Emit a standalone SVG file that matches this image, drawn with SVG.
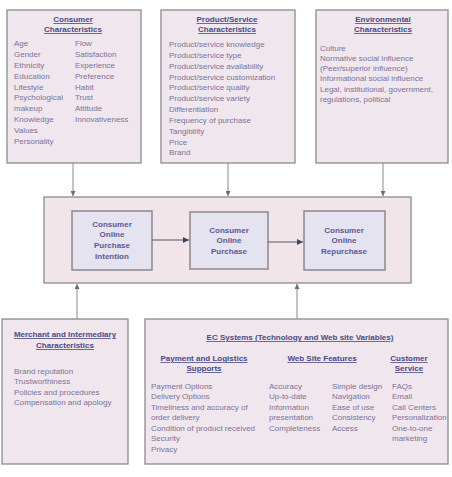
<svg xmlns="http://www.w3.org/2000/svg" width="452" height="477" viewBox="0 0 452 477">
<defs>
<style>
.box{fill:#efe6ee;stroke:#8c8a90;stroke-width:1.3}
.mid{fill:#f2e5ea;stroke:#8c8a90;stroke-width:1.3}
.inner{fill:#e5e3ef;stroke:#8a8890;stroke-width:1.5}
.t{font-family:"Liberation Sans",Arial,sans-serif;font-size:8px;font-weight:bold;fill:#4a4a86;text-anchor:middle;text-decoration:underline}
.it{font-family:"Liberation Sans",Arial,sans-serif;font-size:8px;font-weight:bold;fill:#5a5a92;text-anchor:middle}
.b{font-family:"Liberation Sans",Arial,sans-serif;font-size:8px;fill:#7c7399}
.c{stroke:#8a8a8a;stroke-width:1;fill:none}
.cd{stroke:#55556a;stroke-width:1;fill:none}
</style>
<marker id="ah" viewBox="0 0 6 6" refX="6" refY="3" markerWidth="5" markerHeight="5" orient="auto"><path d="M0,0 L6,3 L0,6 z" fill="#6a6a7a"/></marker>
<marker id="ahd" viewBox="0 0 6 6" refX="6" refY="3" markerWidth="6" markerHeight="6" orient="auto"><path d="M0,0 L6,3 L0,6 z" fill="#44445a"/></marker>
</defs>
<rect width="452" height="477" fill="#ffffff"/>
<g id="consumer-characteristics">
<rect class="box" x="7" y="10" width="134" height="153"/>
<text class="t" x="73" y="22">Consumer</text>
<text class="t" x="73" y="32">Characteristics</text>
<text class="b" x="14" y="46">Age</text>
<text class="b" x="14" y="57">Gender</text>
<text class="b" x="14" y="68">Ethnicity</text>
<text class="b" x="14" y="79">Education</text>
<text class="b" x="14" y="90">Lifestyle</text>
<text class="b" x="14" y="100">Psychological</text>
<text class="b" x="14" y="111">makeup</text>
<text class="b" x="14" y="122">Knowledge</text>
<text class="b" x="14" y="133">Values</text>
<text class="b" x="14" y="144">Personality</text>
<text class="b" x="75" y="46">Flow</text>
<text class="b" x="75" y="57">Satisfaction</text>
<text class="b" x="75" y="68">Experience</text>
<text class="b" x="75" y="79">Preference</text>
<text class="b" x="75" y="90">Habit</text>
<text class="b" x="75" y="100">Trust</text>
<text class="b" x="75" y="111">Attitude</text>
<text class="b" x="75" y="122">Innovativeness</text>
</g>
<g id="product-service-characteristics">
<rect class="box" x="161" y="10" width="134" height="153"/>
<text class="t" x="227" y="22">Product/Service</text>
<text class="t" x="227" y="32">Characteristics</text>
<text class="b" x="169" y="47">Product/service knowledge</text>
<text class="b" x="169" y="58">Product/service type</text>
<text class="b" x="169" y="69">Product/service availability</text>
<text class="b" x="169" y="80">Product/service customization</text>
<text class="b" x="169" y="90">Product/service quality</text>
<text class="b" x="169" y="101">Product/service variety</text>
<text class="b" x="169" y="112">Differentiation</text>
<text class="b" x="169" y="123">Frequency of purchase</text>
<text class="b" x="169" y="134">Tangibility</text>
<text class="b" x="169" y="145">Price</text>
<text class="b" x="169" y="155">Brand</text>
</g>
<g id="environmental-characteristics">
<rect class="box" x="316" y="10" width="132" height="153"/>
<text class="t" x="383" y="22">Environmental</text>
<text class="t" x="383" y="32">Characteristics</text>
<text class="b" x="320" y="51">Culture</text>
<text class="b" x="320" y="61">Normative social influence</text>
<text class="b" x="320" y="71">(Peer/superior influence)</text>
<text class="b" x="320" y="81">Informational social influence</text>
<text class="b" x="320" y="92">Legal, institutional, government,</text>
<text class="b" x="320" y="102">regulations, political</text>
</g>
<g id="online-purchase-process">
<rect class="mid" x="44" y="197" width="367" height="86"/>
</g>
<g id="purchase-intention">
<rect class="inner" x="72" y="211" width="80" height="59"/>
<text class="it" x="112" y="227">Consumer</text>
<text class="it" x="112" y="237">Online</text>
<text class="it" x="112" y="248">Purchase</text>
<text class="it" x="112" y="259">Intention</text>
</g>
<g id="online-purchase">
<rect class="inner" x="190" y="212" width="78" height="57"/>
<text class="it" x="229" y="233">Consumer</text>
<text class="it" x="229" y="243">Online</text>
<text class="it" x="229" y="254">Purchase</text>
</g>
<g id="online-repurchase">
<rect class="inner" x="304" y="211" width="81" height="59"/>
<text class="it" x="344" y="233">Consumer</text>
<text class="it" x="344" y="243">Online</text>
<text class="it" x="344" y="254">Repurchase</text>
</g>
<g id="merchant-intermediary">
<rect class="box" x="2" y="319" width="126" height="145"/>
<text class="t" x="65" y="337">Merchant and Intermediary</text>
<text class="t" x="65" y="348">Characteristics</text>
<text class="b" x="14" y="374">Brand reputation</text>
<text class="b" x="14" y="384">Trustworthiness</text>
<text class="b" x="14" y="395">Policies and procedures</text>
<text class="b" x="14" y="405">Compensation and apology</text>
</g>
<g id="ec-systems">
<rect class="box" x="145" y="319" width="303" height="145"/>
<text class="t" x="300" y="340">EC Systems (Technology and Web site Variables)</text>
<text class="t" x="204" y="361">Payment and Logistics</text>
<text class="t" x="204" y="371">Supports</text>
<text class="b" x="151" y="389">Payment Options</text>
<text class="b" x="151" y="399">Delivery Options</text>
<text class="b" x="151" y="410">Timeliness and accuracy of</text>
<text class="b" x="151" y="420">order delivery</text>
<text class="b" x="151" y="431">Condition of product received</text>
<text class="b" x="151" y="441">Security</text>
<text class="b" x="151" y="452">Privacy</text>
<text class="t" x="322" y="361">Web Site Features</text>
<text class="b" x="269" y="389">Accuracy</text>
<text class="b" x="269" y="399">Up-to-date</text>
<text class="b" x="269" y="410">Information</text>
<text class="b" x="269" y="420">presentation</text>
<text class="b" x="269" y="431">Completeness</text>
<text class="b" x="332" y="389">Simple design</text>
<text class="b" x="332" y="399">Navigation</text>
<text class="b" x="332" y="410">Ease of use</text>
<text class="b" x="332" y="420">Consistency</text>
<text class="b" x="332" y="431">Access</text>
<text class="t" x="409" y="361">Customer</text>
<text class="t" x="409" y="371">Service</text>
<text class="b" x="392" y="389">FAQs</text>
<text class="b" x="392" y="399">Email</text>
<text class="b" x="392" y="410">Call Centers</text>
<text class="b" x="392" y="420">Personalization</text>
<text class="b" x="392" y="431">One-to-one</text>
<text class="b" x="392" y="441">marketing</text>
</g>
<g id="connectors">
<line class="c" x1="73" y1="163" x2="73" y2="196" marker-end="url(#ah)"/>
<line class="c" x1="228" y1="163" x2="228" y2="196" marker-end="url(#ah)"/>
<line class="c" x1="383" y1="163" x2="383" y2="196" marker-end="url(#ah)"/>
<line class="c" x1="77" y1="319" x2="77" y2="284" marker-end="url(#ah)"/>
<line class="c" x1="297" y1="319" x2="297" y2="284" marker-end="url(#ah)"/>
<line class="cd" x1="152" y1="240" x2="189" y2="240" marker-end="url(#ahd)"/>
<line class="cd" x1="268" y1="242" x2="303" y2="242" marker-end="url(#ahd)"/>
</g>
</svg>
